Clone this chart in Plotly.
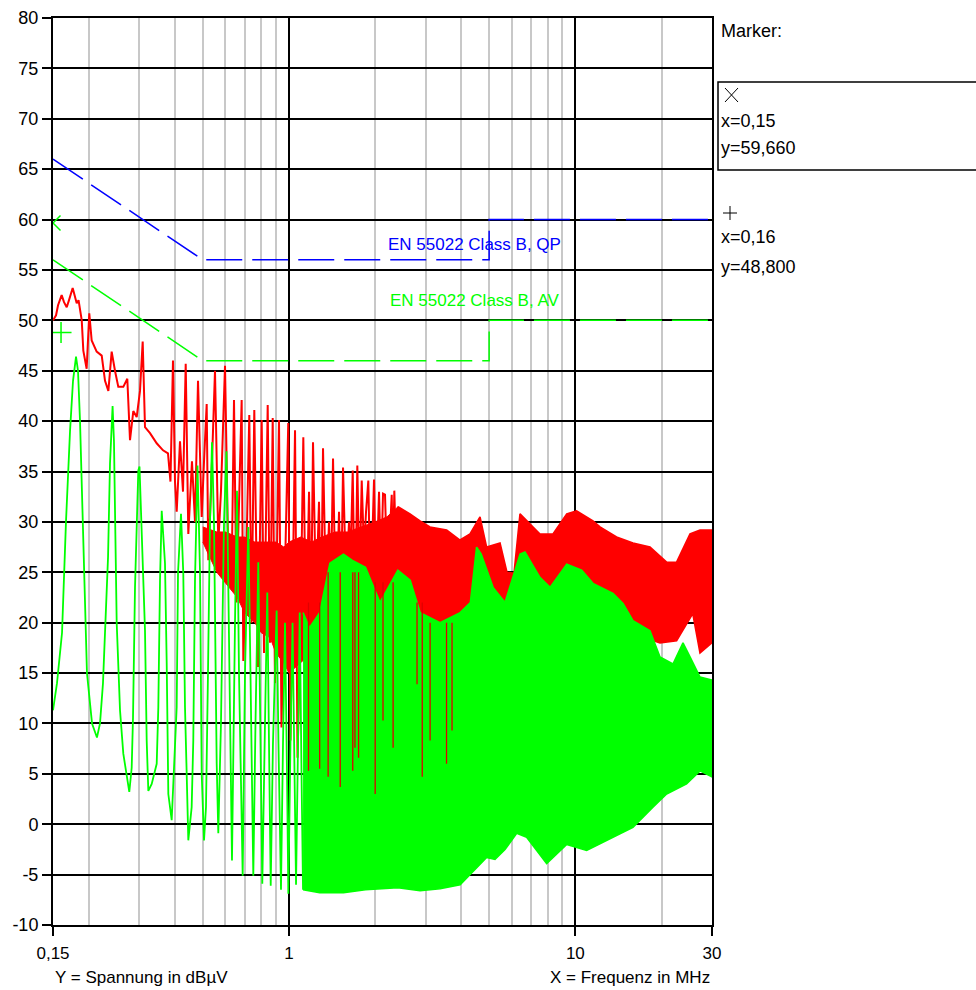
import math
import plotly.graph_objects as go

# ---------------- data ----------------
# red measurement trace: resolvable part (MHz, dBuV)
red_line_f = [0.1500, 0.1537, 0.1562, 0.1608, 0.1639, 0.1675, 0.1706, 0.1757, 0.1815, 0.1842,
              0.1890, 0.1914, 0.1966, 0.1987, 0.2008, 0.2047, 0.2085, 0.2131, 0.2219, 0.2279,
              0.2341, 0.2404, 0.2469, 0.2536, 0.2640, 0.2726, 0.2786, 0.2861, 0.2940, 0.3019,
              0.3085, 0.3143, 0.3272, 0.3453, 0.3633, 0.3781, 0.3857, 0.3936, 0.4000, 0.4055,
              0.4164, 0.4266, 0.4360, 0.4452, 0.4585, 0.4698, 0.4813, 0.4958, 0.5051, 0.5161,
              0.5228, 0.5343, 0.5517, 0.5666, 0.5789, 0.5980, 0.6126, 0.6309, 0.6428, 0.6558,
              0.6837, 0.6927, 0.7079, 0.7269, 0.7398, 0.7567, 0.7796, 0.8032, 0.8181, 0.8429,
              0.8586, 0.8775, 0.8936, 0.9230, 0.9417, 0.9609, 0.9944, 1.0121, 1.0327, 1.0500,
              1.0714, 1.0974, 1.1224, 1.1470, 1.1751, 1.1940, 1.2133, 1.2430, 1.2732, 1.2940,
              1.3150, 1.3471, 1.3799, 1.4023, 1.4252, 1.4599, 1.4955, 1.5198, 1.5445, 1.5821,
              1.6208, 1.6404, 1.6697, 1.7008, 1.7325, 1.7634, 1.7949, 1.8285, 1.8581, 1.8928,
              1.9266, 1.9816, 2.0137, 2.0628, 2.0963, 2.1303, 2.1648, 2.2087, 2.2845, 2.3085,
              2.3328, 2.3649, 2.4033]
red_line_v = [50.0, 50.5, 51.5, 52.5, 51.8, 51.3, 52.0, 53.2, 51.7, 52.0,
              50.0, 47.0, 45.2, 47.5, 50.7, 48.0, 47.5, 46.9, 46.5, 44.0,
              43.0, 46.9, 45.0, 43.4, 43.4, 44.2, 38.1, 41.0, 40.4, 43.0,
              47.9, 39.4, 38.8, 37.8, 37.1, 36.8, 34.0, 46.0, 34.0, 31.0,
              38.0, 33.0, 45.7, 28.8, 36.0, 30.0, 44.0, 30.5, 36.0, 41.7,
              26.2, 33.0, 45.0, 27.9, 33.0, 45.5, 28.0, 24.9, 42.1, 22.0,
              42.1, 16.2, 25.0, 40.6, 20.0, 41.1, 15.6, 40.1, 17.0, 41.6,
              18.0, 40.3, 14.0, 40.1, 9.6, 22.0, 39.8, 8.3, 25.0, 39.1,
              6.6, 20.0, 38.4, 18.0, 33.0, 20.0, 37.9, 22.0, 32.0, 20.0,
              37.3, 22.0, 30.0, 24.0, 36.3, 20.0, 31.0, 22.0, 35.4, 24.0,
              30.0, 26.0, 35.1, 20.0, 35.6, 24.0, 34.1, 27.0, 31.0, 34.1,
              22.0, 34.2, 23.0, 33.0, 25.0, 32.8, 32.7, 24.0, 32.7, 26.0,
              33.1, 27.0, 31.5]

# red trace: solid core below the spikes (0.5 - 2.4 MHz), upper and lower edge
red_core_f = [0.50, 0.56, 0.60, 0.66, 0.70, 0.76, 0.80, 0.86, 0.90, 0.96, 1.00, 1.10, 1.20, 1.30,
              1.45, 1.60, 1.80, 2.00, 2.20, 2.403]
red_core_up = [29.5, 29.0, 29.0, 28.5, 28.5, 28.0, 28.0, 28.0, 28.0, 27.5, 28.0, 28.5, 28.0, 28.5,
               29.0, 29.0, 29.5, 30.0, 30.5, 31.5]
red_core_lo = [28.0, 25.0, 24.0, 22.5, 21.0, 20.0, 19.0, 18.5, 17.0, 16.0, 15.0, 16.0, 17.0, 18.0,
               18.5, 19.0, 19.0, 19.0, 19.5, 20.0]

# red trace: deep dips visible inside the green area
red_dip_f = [1.17, 1.28, 1.37, 1.51, 1.67, 1.70, 1.75, 2.00, 2.13, 2.31, 2.80, 2.92, 3.11, 3.55, 3.71]
red_dip_top = [22.0, 22.0, 25.0, 25.0, 25.0, 25.0, 25.0, 24.0, 24.0, 24.0, 22.0, 22.0, 20.0, 20.0, 20.0]
red_dip_v = [5.3, 5.5, 4.7, 3.7, 5.3, 7.6, 6.6, 3.0, 10.3, 7.6, 13.9, 4.7, 8.3, 6.0, 9.3]

# red measurement trace: dense part, upper and lower envelope
red_up_f = [2.403, 2.646, 2.868, 3.108, 3.553, 3.956, 4.287, 4.646, 4.90, 5.457, 5.77, 6.106,
            6.408, 6.76, 7.525, 8.354, 9.33, 10.10, 10.95, 11.52, 12.19, 13.93, 15.89, 18.22,
            20.83, 22.57, 25.14, 27.24, 30.0]
red_up_v = [31.5, 30.8, 30.1, 29.5, 29.2, 28.2, 28.8, 30.5, 27.5, 27.9, 25.0, 24.9,
            30.8, 30.1, 28.8, 28.8, 30.8, 31.1, 30.5, 30.1, 29.5, 28.5, 27.9, 27.5,
            26.0, 26.0, 28.8, 29.2, 29.2]
red_lo_f = [2.403, 3.0, 3.956, 4.5, 5.77, 6.2, 6.94, 8.84, 12.19, 15.51, 19.75, 22.57, 25.7, 27.24, 30.0]
red_lo_v = [20.0, 15.0, 15.0, 17.0, 15.9, 13.9, 17.0, 19.0, 20.0, 19.0, 18.0, 18.2, 20.9, 17.0, 18.0]

# green measurement trace: resolvable part
green_line_f = [0.1500, 0.1549, 0.1613, 0.1665, 0.1720, 0.1762, 0.1805, 0.1834, 0.1864, 0.1971,
                0.2053, 0.2136, 0.2189, 0.2242, 0.2335, 0.2372, 0.2422, 0.2449, 0.2503, 0.2529,
                0.2571, 0.2640, 0.2770, 0.2824, 0.2854, 0.2900, 0.2978, 0.3007, 0.3060, 0.3143,
                0.3186, 0.3228, 0.3317, 0.3453, 0.3498, 0.3546, 0.3595, 0.3691, 0.3742, 0.3791,
                0.3895, 0.3968, 0.4055, 0.4098, 0.4198, 0.4276, 0.4335, 0.4394, 0.4452, 0.4574,
                0.4634, 0.4698, 0.4794, 0.4891, 0.4958, 0.5051, 0.5132, 0.5215, 0.5300, 0.5386,
                0.5473, 0.5593, 0.5666, 0.5789, 0.5932, 0.6052, 0.6174, 0.6325, 0.6480, 0.6585,
                0.6692, 0.6893, 0.7022, 0.7212, 0.7339, 0.7507, 0.7640, 0.7815, 0.7923, 0.8071,
                0.8247, 0.8401, 0.8517, 0.8635, 0.8793, 0.9058, 0.9191, 0.9379, 0.9532, 0.9687,
                0.9844, 0.9949, 1.0121, 1.0292, 1.0458, 1.0585, 1.0755, 1.0904, 1.1062, 1.1197]
green_line_v = [11.3, 14.0, 19.0, 30.0, 39.0, 44.0, 46.4, 45.0, 40.0, 15.0,
                10.0, 8.6, 10.0, 14.0, 26.5, 35.8, 41.5, 38.0, 20.0, 16.0,
                11.3, 7.0, 3.2, 5.6, 10.6, 23.5, 35.1, 35.5, 29.2, 19.2,
                8.3, 3.3, 4.0, 6.0, 11.6, 24.2, 31.1, 25.9, 16.0, 3.0,
                0.4, 5.0, 11.6, 24.9, 30.8, 24.9, 11.6, 5.0, -1.6, 1.7,
                8.3, 24.2, 35.6, 25.0, 5.0, -1.6, 1.7, 15.0, 30.0, 37.9,
                30.0, 6.0, -0.9, 10.0, 30.0, 37.0, 20.0, -3.6, 20.0, 33.1,
                15.0, -5.1, 15.0, 29.5, 15.0, -5.1, 10.0, 26.0, 12.0, -5.9,
                10.0, 23.0, 8.0, -6.1, 8.0, 21.2, 8.0, -6.5, 8.0, 20.0,
                5.0, -6.9, 8.0, 20.0, 5.0, -6.0, 8.0, 21.0, 5.0, -6.5]

# green measurement trace: dense part, upper and lower envelope
green_up_f = [1.12, 1.18, 1.28, 1.39, 1.55, 1.66, 1.85, 2.08, 2.40, 2.65, 2.87, 3.37, 3.96, 4.30,
              4.52, 4.69, 5.16, 5.68, 6.41, 6.67, 7.52, 8.16, 9.33, 10.52, 11.52, 13.53, 14.67,
              15.89, 18.22, 19.75, 21.92, 23.76, 25.14, 27.24, 30.0]
green_up_v = [21.0, 19.5, 21.0, 25.9, 26.8, 26.2, 25.5, 22.0, 25.2, 24.2, 21.0, 20.0, 21.0, 22.0,
              27.5, 26.8, 23.5, 22.0, 26.8, 27.0, 24.5, 23.5, 25.8, 25.2, 23.9, 22.9, 21.9,
              20.2, 19.2, 16.6, 15.9, 18.0, 16.6, 14.6, 14.3]
green_lo_f = [1.12, 1.28, 1.55, 1.85, 2.40, 2.87, 3.37, 3.96, 4.18, 4.90, 5.24, 5.68, 6.24, 6.76,
              7.94, 9.33, 10.95, 13.53, 15.89, 18.66, 20.83, 24.45, 27.24, 30.0]
green_lo_v = [-6.5, -6.8, -6.8, -6.5, -6.3, -6.6, -6.4, -6.0, -5.3, -3.3, -3.5, -2.5, -0.9, -1.3,
              -3.9, -2.0, -2.6, -1.3, -0.3, 1.7, 3.0, 4.0, 5.3, 4.7]

# limit lines EN 55022 Class B
limit_f = [0.15, 0.5, 5.0, 5.0, 30.0]
qp_limit = [66.0, 56.0, 56.0, 60.0, 60.0]
av_limit = [56.0, 46.0, 46.0, 50.0, 50.0]
qp_name = "EN 55022 Class B, QP"
av_name = "EN 55022 Class B, AV"

# markers
marker_f = [0.15, 0.16]
marker_v = [59.66, 48.8]

# axes
x_tickvals = [0.15, 1, 10, 30]
x_ticktext = ["0,15", "1", "10", "30"]
x_minor = [0.2, 0.3, 0.4, 0.5, 0.6, 0.7, 0.8, 0.9, 2, 3, 4, 5, 6, 7, 8, 9, 20]
y_tickvals = list(range(-10, 81, 5))
y_ticktext = [str(v) for v in y_tickvals]

# ---------------- styling ----------------
RED = "#ff0000"
GREEN = "#00ff00"
BLUE = "#0000ff"
FONT = "Liberation Sans, Arial, sans-serif"

W, H = 976, 990
ML, MR, MT, MB = 53, 264, 18, 65
PW, PH = W - ML - MR, H - MT - MB


def px_x(px):
    return (px - ML) / PW


def px_y(py):
    return (H - MB - py) / PH


fig = go.Figure()

# red trace
fig.add_trace(go.Scatter(x=red_core_f + red_core_f[::-1], y=red_core_up + red_core_lo[::-1],
                         mode="lines", fill="toself", fillcolor=RED, line=dict(color=RED, width=1),
                         hoverinfo="skip", showlegend=False))
fig.add_trace(go.Scatter(x=red_line_f, y=red_line_v, mode="lines",
                         line=dict(color=RED, width=2), hoverinfo="skip", showlegend=False))
fig.add_trace(go.Scatter(x=red_up_f + red_lo_f[::-1], y=red_up_v + red_lo_v[::-1], mode="lines",
                         fill="toself", fillcolor=RED, line=dict(color=RED, width=1.6),
                         hoverinfo="skip", showlegend=False))
# green trace
fig.add_trace(go.Scatter(x=green_line_f, y=green_line_v, mode="lines",
                         line=dict(color=GREEN, width=1.8), hoverinfo="skip", showlegend=False))
fig.add_trace(go.Scatter(x=green_up_f + green_lo_f[::-1], y=green_up_v + green_lo_v[::-1], mode="lines",
                         fill="toself", fillcolor=GREEN, line=dict(color=GREEN, width=1.6),
                         hoverinfo="skip", showlegend=False))
# red dips reaching into the green area
dip_x, dip_y = [], []
for f, top, bot in zip(red_dip_f, red_dip_top, red_dip_v):
    dip_x += [f, f, None]
    dip_y += [top, bot, None]
fig.add_trace(go.Scatter(x=dip_x, y=dip_y, mode="lines", line=dict(color="#e00000", width=1.3),
                         hoverinfo="skip", showlegend=False))
# limits
fig.add_trace(go.Scatter(x=limit_f, y=qp_limit, mode="lines",
                         line=dict(color=BLUE, width=1.5, dash="36px,10px"), showlegend=False))
fig.add_trace(go.Scatter(x=limit_f, y=av_limit, mode="lines",
                         line=dict(color=GREEN, width=1.5, dash="36px,10px"), showlegend=False))
# markers
fig.add_trace(go.Scatter(x=marker_f, y=marker_v, mode="markers",
                         marker=dict(symbol=["x-thin-open", "cross-thin-open"], size=15,
                                     color=GREEN, line=dict(color=GREEN, width=1.5)),
                         showlegend=False))

TXT = dict(size=17, family=FONT, color="#000")
annotations = [
    dict(x=math.log10(4.46), y=57.5, xref="x", yref="y", text=qp_name, showarrow=False,
         font=dict(color=BLUE, size=17, family=FONT), xanchor="center", yanchor="middle"),
    dict(x=math.log10(4.46), y=52.0, xref="x", yref="y", text=av_name, showarrow=False,
         font=dict(color=GREEN, size=17, family=FONT), xanchor="center", yanchor="middle"),
    dict(x=0, y=px_y(977), xref="paper", yref="paper", text="Y = Spannung in dBµV",
         showarrow=False, xanchor="left", yanchor="middle", font=TXT),
    dict(x=1, y=px_y(977), xref="paper", yref="paper", text="X = Frequenz in MHz",
         showarrow=False, xanchor="right", yanchor="middle", font=TXT),
    dict(x=px_x(719), y=px_y(31), xref="paper", yref="paper", text="Marker:",
         showarrow=False, xanchor="left", yanchor="middle", font=dict(size=18, family=FONT, color="#000")),
]


def fmt(v, d):
    return f"{v:.{d}f}".replace(".", ",")


marker_rows = [(121, 148), (237, 267)]
for (fx, vy), (ry1, ry2) in zip(zip(marker_f, marker_v), marker_rows):
    annotations.append(dict(x=px_x(719), y=px_y(ry1), xref="paper", yref="paper",
                            text="x=" + fmt(fx, 2), showarrow=False, xanchor="left", yanchor="middle",
                            font=dict(size=18, family=FONT, color="#000")))
    annotations.append(dict(x=px_x(719), y=px_y(ry2), xref="paper", yref="paper",
                            text="y=" + fmt(vy, 3), showarrow=False, xanchor="left", yanchor="middle",
                            font=dict(size=18, family=FONT, color="#000")))

shapes = [
    dict(type="rect", xref="paper", yref="paper", x0=px_x(718), x1=px_x(990),
         y0=px_y(170), y1=px_y(82), line=dict(color="#000", width=1.5)),
    dict(type="line", xref="paper", yref="paper", x0=px_x(725), x1=px_x(738),
         y0=px_y(88), y1=px_y(102), line=dict(color="#000", width=1)),
    dict(type="line", xref="paper", yref="paper", x0=px_x(738), x1=px_x(725),
         y0=px_y(88), y1=px_y(102), line=dict(color="#000", width=1)),
    dict(type="line", xref="paper", yref="paper", x0=px_x(723), x1=px_x(737),
         y0=px_y(213), y1=px_y(213), line=dict(color="#000", width=1)),
    dict(type="line", xref="paper", yref="paper", x0=px_x(730), x1=px_x(730),
         y0=px_y(206), y1=px_y(220), line=dict(color="#000", width=1)),
]

fig.update_layout(
    width=W, height=H,
    margin=dict(l=ML, r=MR, t=MT, b=MB, pad=0, autoexpand=False),
    paper_bgcolor="white", plot_bgcolor="white",
    font=dict(family=FONT, size=18, color="#000"),
    annotations=annotations, shapes=shapes,
    showlegend=False,
)
fig.update_xaxes(
    type="log", range=[math.log10(0.15), math.log10(30)], automargin=False,
    tickmode="array", tickvals=x_tickvals, ticktext=x_ticktext,
    ticks="outside", ticklen=9, tickwidth=1.5, tickcolor="#000",
    ticklabelstandoff=3,
    showgrid=True, gridcolor="#000", gridwidth=1.8,
    showline=True, linecolor="#000", linewidth=2, mirror=True,
    zeroline=False,
    minor=dict(tickvals=x_minor, showgrid=True, gridcolor="#c8c8c8", gridwidth=1.8, ticks=""),
    tickfont=dict(size=17, family=FONT, color="#000"),
)
fig.update_yaxes(
    range=[-10, 80], automargin=False,
    tickmode="array", tickvals=y_tickvals, ticktext=y_ticktext,
    ticks="outside", ticklen=9, tickwidth=1.5, tickcolor="#000",
    showgrid=True, gridcolor="#000", gridwidth=1.8,
    showline=True, linecolor="#000", linewidth=2, mirror=True,
    zeroline=False,
    tickfont=dict(size=18, family=FONT, color="#000"),
)

fig.write_html("out.html", config={"displayModeBar": False},
               post_script="document.body.style.margin='0';document.body.style.overflow='hidden';")
